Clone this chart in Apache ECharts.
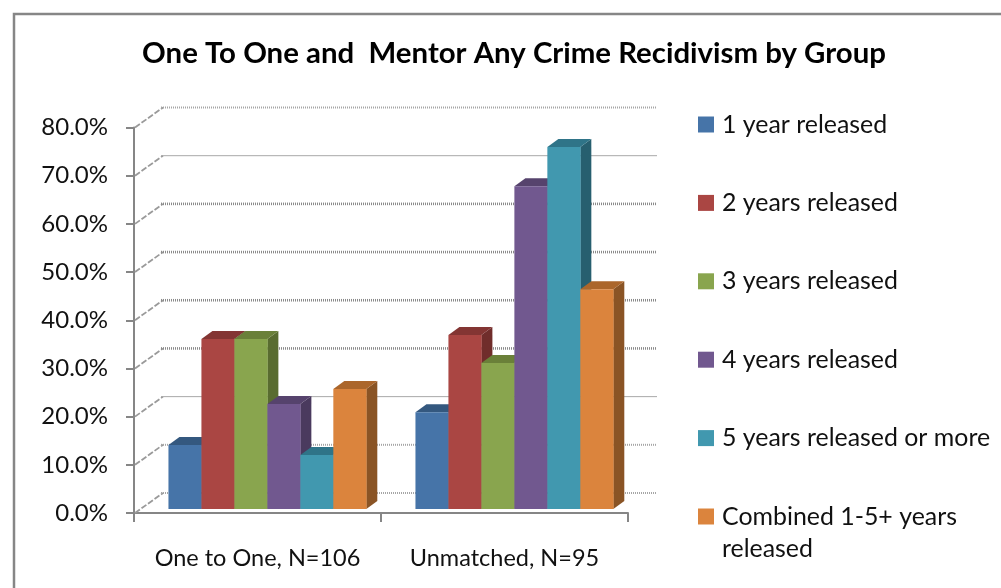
<!DOCTYPE html>
<html><head><meta charset="utf-8">
<style>html,body{margin:0;padding:0;background:#fff;overflow:hidden}#c{width:1001px;height:588px}</style>
<script src="https://cdn.jsdelivr.net/npm/echarts@6/dist/echarts.min.js"></script>
</head><body><div id="c"></div>
<script>
const categories = ['One to One, N=106', 'Unmatched, N=95'];
const seriesNames = ['1 year released', '2 years released', '3 years released', '4 years released', '5 years released or more', 'Combined 1-5+ years released'];
const year1 = [13.3, 20.1];
const year2 = [35.3, 36.1];
const year3 = [35.3, 30.3];
const year4 = [21.8, 67.0];
const year5 = [11.2, 75.1];
const combined = [24.9, 45.6];
const yTicks = [0, 10, 20, 30, 40, 50, 60, 70, 80];
const thinTicks = [20, 70];
const lightTicks = [0, 10, 80];
const allValues = [year1, year2, year3, year4, year5, combined];
const front = ['#4674A8', '#AA4643', '#89A54E', '#71588F', '#4198AF', '#DB843D'];
const top_ = ['#34587F', '#833533', '#6A8039', '#56436D', '#2F7488', '#AB662B'];
const side = ['#2F4F73', '#702D2B', '#596C30', '#4A3A5E', '#275F6F', '#8A5425'];
const FONT = 'Lato';
const DX = 29, DY = 20, BDX = 11, BDY = 8, LIFT = 4;

const chart = echarts.init(document.getElementById('c'), null, {renderer: 'canvas'});

function wall(params, api) {
  const v = api.value(0);
  const p = api.coord([0, v]);
  const cs = params.coordSys;
  const x0 = cs.x, x1 = cs.x + cs.width, y = p[1];
  const thin = thinTicks.indexOf(v) >= 0;
  const light = lightTicks.indexOf(v) >= 0;
  const children = [{
    type: 'polyline',
    shape: {points: [[x0 + 1, y], [x0 + DX, y - DY]]},
    style: {stroke: '#9a9a9a', lineWidth: 1.8, lineDash: [6, 2], fill: null}
  }, {
    type: 'line',
    shape: {x1: x0 + DX - 2, y1: y - DY, x2: x1 + DX, y2: y - DY},
    style: thin ? {stroke: '#a8a8a8', lineWidth: 1}
      : light ? {stroke: '#a6a6a6', lineWidth: 2, lineDash: [1, 1]}
      : {stroke: '#8a8a8a', lineWidth: 2.6, lineDash: [1, 1]}
  }];
  return {type: 'group', children};
}

function bar(si) {
  return function (params, api) {
    const cat = api.value(0), v = api.value(1);
    const band = api.size([1, 0])[0];
    const w = band * 0.1335;
    const c = api.coord([cat, v]);
    const b = api.coord([cat, 0]);
    const groupLeft = c[0] - 3 * w + band * 0.04;
    const x = groupLeft + si * w;
    const yt = c[1] - LIFT, yb = b[1] - LIFT;
    return {type: 'group', children: [
      {type: 'polygon', shape: {points: [[x + w, yt], [x + w + BDX, yt - BDY], [x + w + BDX, yb - BDY], [x + w, yb]]}, style: {fill: side[si]}},
      {type: 'polygon', shape: {points: [[x, yt], [x + BDX, yt - BDY], [x + w + BDX, yt - BDY], [x + w, yt]]}, style: {fill: top_[si]}},
      {type: 'rect', shape: {x: x, y: yt, width: w + 0.3, height: yb - yt}, style: {fill: front[si]}}
    ]};
  };
}

const series = [{
  type: 'custom', name: 'wall', renderItem: wall, z: 1, silent: true,
  encode: {y: 0}, data: yTicks.map(t => [t])
}];
allValues.forEach((vals, si) => {
  series.push({
    type: 'custom', name: seriesNames[si], renderItem: bar(si), z: 3 + si,
    itemStyle: {color: front[si]},
    encode: {x: 0, y: 1},
    data: vals.map((v, i) => [i, v])
  });
});

chart.setOption({
  animation: false,
  backgroundColor: '#fff',
  title: {
    text: 'One To One and  Mentor Any Crime Recidivism by Group',
    left: 514, top: 39, padding: 0, textAlign: 'center',
    textStyle: {fontFamily: FONT, fontWeight: 'bold', fontSize: 29.4, color: '#000'}
  },
  graphic: [
    {type: 'rect', shape: {x: 14, y: 14, width: 1100, height: 700}, style: {fill: null, stroke: '#868686', lineWidth: 2.5}, silent: true, z: -1},
    {type: 'text', left: 722, top: 536, silent: true, style: {text: 'released', fontFamily: FONT, fontSize: 24.9, fill: '#111'}}
  ],
  legend: {
    orient: 'vertical', left: 698, top: 112, height: 560, padding: 0, itemWidth: 16, itemHeight: 16, itemGap: 53.4,
    icon: 'rect',
    formatter: n => n.replace(' released', n.startsWith('Combined') ? '' : ' released'),
    textStyle: {fontFamily: FONT, fontSize: 24.9, color: '#111', padding: [0, 0, 0, 3]},
    data: seriesNames
  },
  grid: {left: 134, top: 127.5, width: 494, height: 385.5},
  xAxis: {
    type: 'category', data: categories, boundaryGap: true,
    axisLine: {lineStyle: {color: '#868686', width: 2}},
    axisTick: {show: true, length: 9, alignWithLabel: false, lineStyle: {color: '#868686', width: 2}},
    axisLabel: {fontFamily: FONT, fontSize: 23.5, color: '#111', margin: 33, interval: 0}
  },
  yAxis: {
    type: 'value', min: 0, max: 80, interval: 10,
    axisLine: {show: true, lineStyle: {color: '#868686', width: 2}},
    axisTick: {show: true, length: 8, lineStyle: {color: '#868686', width: 2}},
    splitLine: {show: false},
    axisLabel: {fontFamily: FONT, fontSize: 24, color: '#111', margin: 26, padding: [6, 0, 0, 0], formatter: v => v.toFixed(1) + '%'}
  },
  series
});
</script></body></html>
